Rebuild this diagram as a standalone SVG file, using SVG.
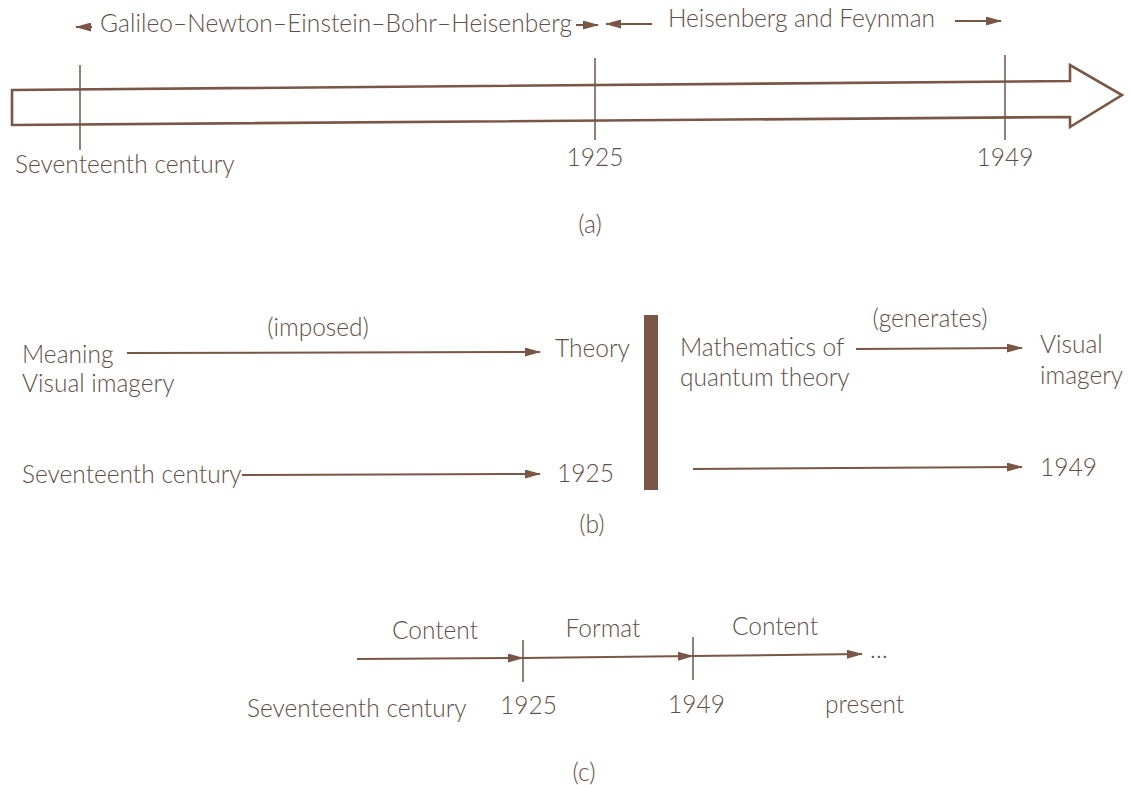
<svg xmlns="http://www.w3.org/2000/svg" width="1129" height="785" viewBox="0 0 1129 785">
<style>
text{font-family:Lato,"Open Sans","Liberation Sans",sans-serif;font-size:24.5px;fill:#5e4f48;font-weight:300}
.ln{stroke:#7a5646;stroke-width:2;fill:none}
.tk{stroke:#6e5548;stroke-width:1.5;fill:none}
</style>
<defs>
<marker id="ah" viewBox="0 0 16 9" refX="15" refY="4.5" markerWidth="16" markerHeight="9" markerUnits="userSpaceOnUse" orient="auto">
<path d="M0,0 L16,4.5 L0,9 Z" fill="#7a5646"/>
</marker>
</defs>
<rect width="1129" height="785" fill="#ffffff"/>
<g id="panel-a">
<g id="era1"><text x="100" y="32" textLength="472">Galileo–Newton–Einstein–Bohr–Heisenberg</text></g>
<g id="era2"><text x="668" y="27" textLength="267">Heisenberg and Feynman</text></g>
<g id="big-arrow"><path d="M12,90 L1070,81 L1070,65 L1122,95 L1070,127 L1070,117 L12,125 Z" fill="#fff" stroke="#7a5646" stroke-width="2.6"/></g>
<g id="lbl-a1"><text x="15" y="173">Seventeenth century</text></g>
<g id="lbl-a2"><text x="595" y="166" text-anchor="middle">1925</text></g>
<g id="lbl-a3"><text x="1005" y="166" text-anchor="middle">1949</text></g>
<g id="cap-a"><text x="590" y="233" text-anchor="middle">(a)</text></g>
</g>
<g id="panel-b">
<g id="imposed"><text x="318" y="336" text-anchor="middle">(imposed)</text></g>
<g id="meaning"><text x="22" y="363">Meaning</text><text x="22" y="392">Visual imagery</text></g>
<g id="theory"><text x="555" y="357">Theory</text></g>
<g id="bar"><rect x="644" y="315" width="14" height="175" fill="#7a5646"/></g>
<g id="math"><text x="680" y="356">Mathematics of</text><text x="680" y="386">quantum theory</text></g>
<g id="generates"><text x="930" y="327" text-anchor="middle">(generates)</text></g>
<g id="visual"><text x="1040" y="353">Visual</text><text x="1040" y="384">imagery</text></g>
<g id="b17"><text x="22" y="483">Seventeenth century</text></g>
<g id="b1925"><text x="557" y="482">1925</text></g>
<g id="b1949"><text x="1040" y="476">1949</text></g>
<g id="cap-b"><text x="592" y="533" text-anchor="middle">(b)</text></g>
</g>
<g id="panel-c">
<g id="c-content1"><text x="435" y="639" text-anchor="middle">Content</text></g>
<g id="c-format"><text x="603" y="637" text-anchor="middle">Format</text></g>
<g id="c-content2"><text x="775" y="635" text-anchor="middle">Content</text></g>
<g id="c-dots"><text x="870" y="658">…</text></g>
<g id="c17"><text x="247" y="717">Seventeenth century</text></g>
<g id="c1925"><text x="500" y="714">1925</text></g>
<g id="c1949"><text x="668" y="713">1949</text></g>
<g id="cpresent"><text x="825" y="713">present</text></g>
<g id="cap-c"><text x="584" y="781" text-anchor="middle">(c)</text></g>
</g>
<g id="connectors">
<line class="ln" x1="92" y1="27" x2="76" y2="27" marker-end="url(#ah)"/>
<line class="ln" x1="576" y1="25" x2="598" y2="25" marker-end="url(#ah)"/>
<line class="ln" x1="652" y1="24" x2="606" y2="24" marker-end="url(#ah)"/>
<line class="ln" x1="955" y1="21" x2="1001" y2="21" marker-end="url(#ah)"/>
<line class="tk" x1="80" y1="65" x2="80" y2="150"/>
<line class="tk" x1="595" y1="58" x2="595" y2="140"/>
<line class="tk" x1="1005" y1="55" x2="1005" y2="140"/>
<line class="ln" x1="127" y1="353" x2="540" y2="352" marker-end="url(#ah)"/>
<line class="ln" x1="856" y1="349" x2="1022" y2="348" marker-end="url(#ah)"/>
<line class="ln" x1="242" y1="475" x2="540" y2="474" marker-end="url(#ah)"/>
<line class="ln" x1="693" y1="469" x2="1022" y2="467" marker-end="url(#ah)"/>
<line class="ln" x1="357" y1="659" x2="523" y2="658" marker-end="url(#ah)"/>
<line class="ln" x1="523" y1="658" x2="693" y2="656" marker-end="url(#ah)"/>
<line class="ln" x1="693" y1="656" x2="862" y2="654" marker-end="url(#ah)"/>
<line class="tk" x1="523" y1="640" x2="523" y2="682"/>
<line class="tk" x1="693" y1="637" x2="693" y2="680"/>
</g>
</svg>
